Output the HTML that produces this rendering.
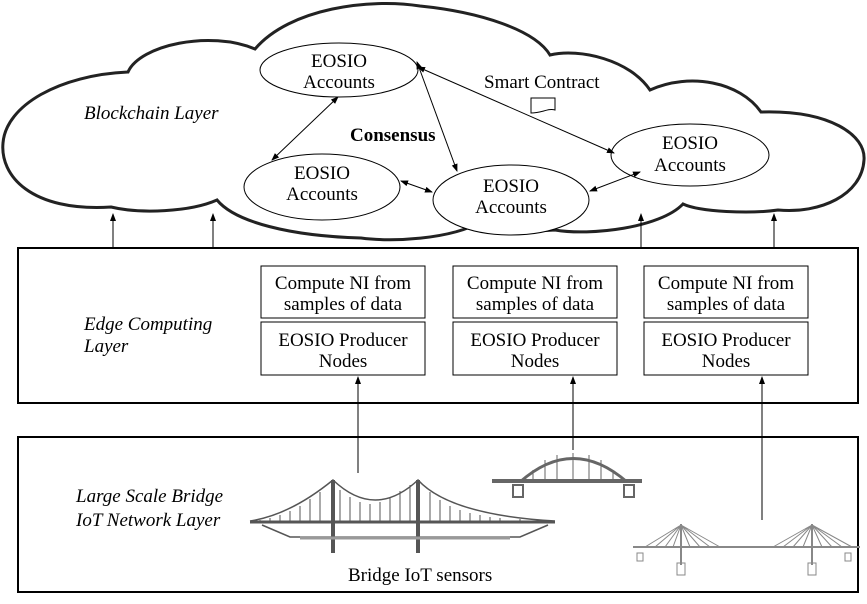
<!DOCTYPE html>
<html><head><style>body{margin:0;background:#fff}svg{display:block}text{font-family:"Liberation Serif","Times New Roman",serif;font-size:19px}</style></head><body>
<svg width="867" height="604" viewBox="0 0 867 604" xmlns="http://www.w3.org/2000/svg">
<defs><marker id="a" markerWidth="8" markerHeight="8" refX="7" refY="4" orient="auto-start-reverse" markerUnits="userSpaceOnUse"><path d="M0,1 L8,4 L0,7 z" fill="#000"/></marker></defs>
<rect width="867" height="604" fill="#fff"/>
<path d="M111,207 C30,212 0,175 3,143 C6,105 60,75 128,72 C140,45 210,30 255,49 C290,8 370,-2 420,6 C480,12 535,30 550,55 C580,48 630,60 650,90 C690,72 740,82 761,112 C830,110 866,135 864,160 C862,195 820,214 778,210 C750,214 700,212 683,204 C660,228 590,236 555,230 C530,232 495,228 483,221 C450,240 390,242 361,238 C290,236 235,222 217,200 C190,212 140,214 111,207 Z" fill="#fff" stroke="#222" stroke-width="3"/>
<text x="84" y="119" font-style="italic">Blockchain Layer</text>
<g fill="#fff" stroke="#000" stroke-width="1">
<ellipse cx="339" cy="70" rx="79" ry="27"/>
<ellipse cx="322" cy="187" rx="78" ry="33"/>
<ellipse cx="511" cy="200" rx="78" ry="35"/>
<ellipse cx="690" cy="155" rx="79" ry="31"/>
</g>
<g text-anchor="middle">
<text x="339" y="67">EOSIO</text><text x="339" y="88">Accounts</text>
<text x="322" y="179">EOSIO</text><text x="322" y="200">Accounts</text>
<text x="511" y="192">EOSIO</text><text x="511" y="213">Accounts</text>
<text x="690" y="149">EOSIO</text><text x="690" y="171">Accounts</text>
</g>
<g stroke="#000" stroke-width="1" marker-start="url(#a)" marker-end="url(#a)">
<line x1="338" y1="97" x2="272" y2="160"/>
<line x1="417" y1="62" x2="457" y2="171"/>
<line x1="418" y1="67" x2="614" y2="153"/>
<line x1="401" y1="181" x2="432" y2="192"/>
<line x1="590" y1="191" x2="640" y2="172"/>
</g>
<text x="484" y="88">Smart Contract</text>
<path d="M531,98 L555,98 L555,110 C548,108 542,113 531,113 Z" fill="none" stroke="#000"/>
<text x="350" y="141" font-weight="bold">Consensus</text>
<g stroke="#000" stroke-width="1" marker-end="url(#a)">
<line x1="113" y1="248" x2="113" y2="214"/>
<line x1="213" y1="248" x2="213" y2="214"/>
<line x1="641" y1="248" x2="641" y2="214"/>
<line x1="774" y1="248" x2="774" y2="214"/>
<line x1="358" y1="473" x2="358" y2="377"/>
<line x1="573" y1="450" x2="573" y2="377"/>
<line x1="762" y1="520" x2="762" y2="377"/>
</g>
<rect x="18" y="248" width="840" height="155" fill="none" stroke="#000" stroke-width="2"/>
<text x="84" y="330" font-style="italic">Edge Computing</text>
<text x="84" y="352" font-style="italic">Layer</text>
<g fill="none" stroke="#000">
<rect x="261" y="266" width="164" height="52"/><rect x="261" y="322" width="164" height="53"/>
<rect x="453" y="266" width="164" height="52"/><rect x="453" y="322" width="164" height="53"/>
<rect x="644" y="266" width="164" height="52"/><rect x="644" y="322" width="164" height="53"/>
</g>
<g text-anchor="middle">
<text x="343" y="289">Compute NI from</text><text x="343" y="310">samples of data</text>
<text x="343" y="346">EOSIO Producer</text><text x="343" y="367">Nodes</text>
<text x="535" y="289">Compute NI from</text><text x="535" y="310">samples of data</text>
<text x="535" y="346">EOSIO Producer</text><text x="535" y="367">Nodes</text>
<text x="726" y="289">Compute NI from</text><text x="726" y="310">samples of data</text>
<text x="726" y="346">EOSIO Producer</text><text x="726" y="367">Nodes</text>
</g>
<rect x="18" y="437" width="840" height="155" fill="none" stroke="#000" stroke-width="2"/>
<text x="76" y="502" font-style="italic">Large Scale Bridge</text>
<text x="76" y="526" font-style="italic">IoT Network Layer</text>
<text x="348" y="581">Bridge IoT sensors</text>
<g stroke="#555" fill="none">
<path d="M250,521 Q290,515 333,480 Q375,520 418,480 Q450,515 555,521" stroke-width="1.5"/>
<path d="M260,520 V521 M270,518 V521 M280,515 V521 M290,511 V521 M300,506 V521 M310,499 V521 M320,492 V521 M340,490 V521 M350,497 V521 M360,502 V521 M370,504 V521 M380,502 V521 M390,498 V521 M400,491 V521 M410,485 V521 M430,492 V521 M440,500 V521 M450,506 V521 M460,510 V521 M470,513 V521 M480,515 V521 M490,517 V521 M500,518 V521 M520,519 V521 M540,520 V521"/>
<line x1="250" y1="522" x2="555" y2="522" stroke-width="3"/>
<line x1="333" y1="480" x2="333" y2="553" stroke-width="4"/>
<line x1="418" y1="480" x2="418" y2="553" stroke-width="4"/>
<path d="M262,525 L290,537 H520 L548,525" stroke-width="1.5"/>
<line x1="300" y1="538" x2="510" y2="538" stroke-width="3" stroke="#999"/>
</g>
<g stroke="#666" fill="none">
<path d="M520,482 Q573,435 627,482" stroke-width="3"/>
<path d="M533,470 V482 M545,460 V482 M557,455 V482 M573,453 V482 M589,455 V482 M601,460 V482 M613,470 V482"/>
<line x1="492" y1="481" x2="642" y2="481" stroke-width="4"/>
<rect x="513" y="485" width="10" height="12" stroke-width="2"/>
<rect x="624" y="485" width="10" height="12" stroke-width="2"/>
</g>
<g stroke="#888" fill="none">
<line x1="633" y1="547" x2="860" y2="547" stroke-width="2"/>
<line x1="681" y1="524" x2="681" y2="565" stroke-width="2"/>
<line x1="812" y1="524" x2="812" y2="565" stroke-width="2"/>
<path d="M681,525 L645,547 M681,525 L655,547 M681,525 L665,547 M681,525 L673,547 M681,525 L690,547 M681,525 L700,547 M681,525 L710,547 M681,525 L720,547"/>
<path d="M812,525 L773,547 M812,525 L783,547 M812,525 L793,547 M812,525 L803,547 M812,525 L822,547 M812,525 L832,547 M812,525 L842,547 M812,525 L852,547"/>
<rect x="677" y="563" width="8" height="12"/><rect x="808" y="563" width="8" height="12"/>
<rect x="637" y="553" width="6" height="8"/><rect x="845" y="553" width="6" height="8"/>
</g>
</svg>
</body></html>
